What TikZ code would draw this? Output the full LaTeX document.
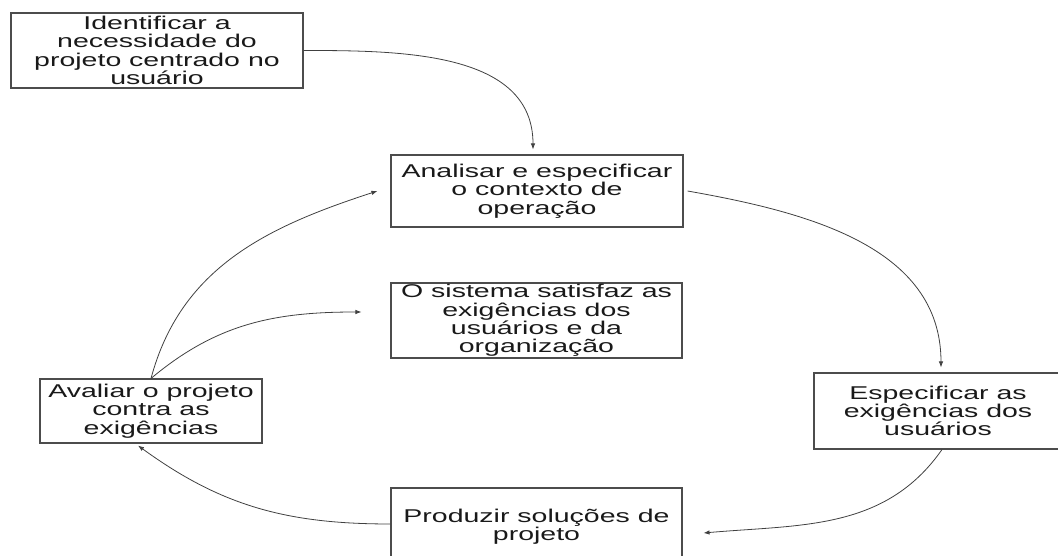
\documentclass[tikz,border=0pt]{standalone}
\usepackage{fontspec}
\setmainfont{Liberation Sans}[FakeStretch=1.54]
\usetikzlibrary{arrows.meta}

\begin{document}
\begin{tikzpicture}[x=1pt, y=1pt,
                    caixa/.style={draw=black!70, line width=1.1pt, align=center, inner sep=0pt,
                                  text=black!90, font=\fontsize{18.5}{18.3}\selectfont},
                    seta/.style={draw=black!75, line width=0.8pt, -{Latex[length=6pt,width=4.5pt]}}]
                    \useasboundingbox (0,0) rectangle (1058,556);
                    \node [caixa, minimum width=292pt, minimum height=75pt] (necessidade) at (157, 505.5) {Identificar a\\necessidade do\\projeto centrado no\\usuário};
                    \node [caixa, minimum width=292pt, minimum height=72pt] (analisar) at (537, 365) {Analisar e especificar\\o contexto de\\operação};
                    \node [caixa, minimum width=291pt, minimum height=75pt] (sistema) at (536.5, 235.5) {O sistema satisfaz as\\exigências dos\\usuários e da\\organização};
                    \node [caixa, minimum width=248pt, minimum height=76pt] (especificar) at (938, 145) {Especificar as\\exigências dos\\usuários};
                    \node [caixa, minimum width=291pt, minimum height=78pt] (produzir) at (536.5, 29) {Produzir soluções de\\projeto};
                    \node [caixa, minimum width=222pt, minimum height=64pt] (avaliar) at (151, 145) {Avaliar o projeto\\contra as\\exigências};
                    \draw [seta] (necessidade.east) to[out=0, in=90] ([xshift=-4pt, yshift=5pt]analisar.north);
                    \draw [seta] ([xshift=4pt]analisar.east) to[out=-10, in=90] ([xshift=3pt, yshift=5pt]especificar.north);
                    \draw [seta] ([xshift=4pt]especificar.south) to[out=-125, in=5] ([xshift=21pt, yshift=-6pt]produzir.east);
                    \draw [seta] ([yshift=3pt]produzir.west) to[out=180, in=-36] ([xshift=-13pt, yshift=-2pt]avaliar.south);
                    \draw [seta] (avaliar.north) to[out=75, in=198] ([xshift=-13pt]analisar.west);
                    \draw [seta] (avaliar.north) to[out=40, in=180] ([xshift=-29pt, yshift=8.5pt]sistema.west);
                \end{tikzpicture}
\end{document}
